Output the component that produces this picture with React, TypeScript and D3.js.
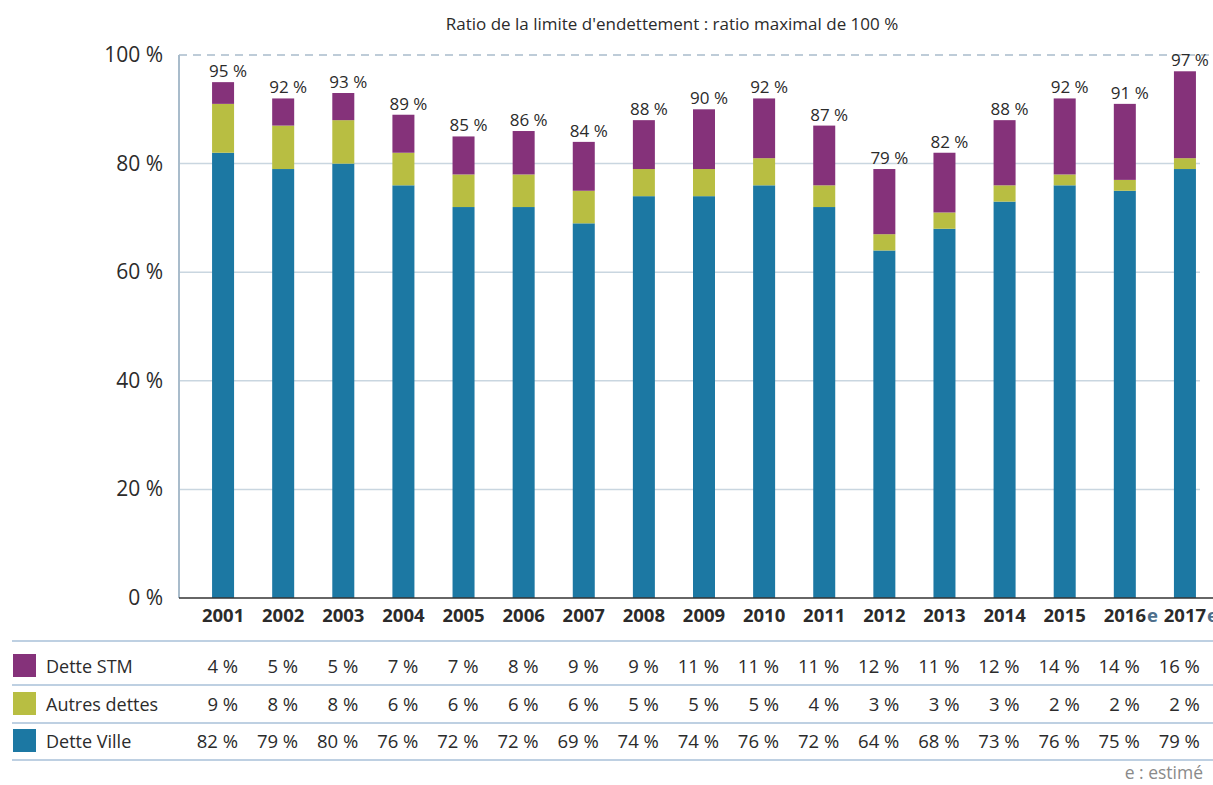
import React, { useEffect, useRef } from "react";
import * as d3 from "d3";

const years = ["2001", "2002", "2003", "2004", "2005", "2006", "2007", "2008", "2009", "2010", "2011", "2012", "2013", "2014", "2015", "2016", "2017"];
const estimated = ["2016", "2017"];
const detteVille = [82, 79, 80, 76, 72, 72, 69, 74, 74, 76, 72, 64, 68, 73, 76, 75, 79];
const autresDettes = [9, 8, 8, 6, 6, 6, 6, 5, 5, 5, 4, 3, 3, 3, 2, 2, 2];
const detteSTM = [4, 5, 5, 7, 7, 8, 9, 9, 11, 11, 11, 12, 11, 12, 14, 14, 16];
const totals = [95, 92, 93, 89, 85, 86, 84, 88, 90, 92, 87, 79, 82, 88, 92, 91, 97];
const yTicks = [0, 20, 40, 60, 80, 100];

const series = [
  { key: "stm", label: "Dette STM", values: detteSTM, color: "#85327a" },
  { key: "autres", label: "Autres dettes", values: autresDettes, color: "#b8be42" },
  { key: "ville", label: "Dette Ville", values: detteVille, color: "#1c78a3" },
];

const W = 1213;
const H = 785;
const FONT = "'Open Sans', 'Noto Sans', sans-serif";

const App = () => {
  const svgRef = useRef<SVGSVGElement>(null);

  useEffect(() => {
    const svg = d3.select(svgRef.current);
    svg.selectAll("*").remove();

    const x0 = 179;
    const yTop = 55;
    const yBottom = 598;

    // band scale: first bar centred ~223, step ~60
    const x = d3
      .scaleBand()
      .domain(years)
      .range([x0, 1229])
      .paddingInner(0.634)
      .paddingOuter(0.55);
    const y = d3.scaleLinear().domain([0, 100]).range([yBottom, yTop]);

    // title
    svg
      .append("text")
      .attr("x", 672)
      .attr("y", 30)
      .attr("text-anchor", "middle")
      .style("font-family", FONT)
      .style("font-size", "17px")
      .attr("fill", "#2b2b2b")
      .text("Ratio de la limite d'endettement : ratio maximal de 100 %");

    // grid
    svg
      .append("g")
      .selectAll("line")
      .data(yTicks.filter((t) => t > 0 && t < 100))
      .join("line")
      .attr("x1", x0)
      .attr("x2", 1200)
      .attr("y1", (d) => y(d))
      .attr("y2", (d) => y(d))
      .attr("stroke", "#c9d6e0")
      .attr("stroke-width", 1.5);

    svg
      .append("line")
      .attr("x1", x0)
      .attr("x2", W)
      .attr("y1", y(100))
      .attr("y2", y(100))
      .attr("stroke", "#a9bccb")
      .attr("stroke-width", 1.5)
      .attr("stroke-dasharray", "8,6");

    // y axis labels
    svg
      .append("g")
      .selectAll("text")
      .data(yTicks)
      .join("text")
      .attr("x", 163)
      .attr("y", (d) => y(d) + 7)
      .attr("text-anchor", "end")
      .style("font-family", FONT)
      .style("font-size", "21px")
      .attr("fill", "#2b2b2b")
      .text((d) => `${d} %`);

    // stacked bars
    const stackData = years.map((yr, i) => ({
      year: yr,
      ville: detteVille[i],
      autres: autresDettes[i],
      stm: detteSTM[i],
    }));
    const stack = d3.stack<any>().keys(["ville", "autres", "stm"]);
    const layers = stack(stackData);
    const colorOf: Record<string, string> = {};
    series.forEach((s) => (colorOf[s.key] = s.color));

    svg
      .append("g")
      .selectAll("g")
      .data(layers)
      .join("g")
      .attr("fill", (d) => colorOf[d.key])
      .selectAll("rect")
      .data((d) => d)
      .join("rect")
      .attr("x", (d: any) => x(d.data.year)!)
      .attr("width", x.bandwidth())
      .attr("y", (d) => y(d[1]))
      .attr("height", (d) => y(d[0]) - y(d[1]));

    // axes lines
    svg
      .append("line")
      .attr("x1", x0)
      .attr("x2", x0)
      .attr("y1", yTop)
      .attr("y2", yBottom)
      .attr("stroke", "#a9bccb")
      .attr("stroke-width", 2);
    svg
      .append("line")
      .attr("x1", x0)
      .attr("x2", W)
      .attr("y1", yBottom)
      .attr("y2", yBottom)
      .attr("stroke", "#333")
      .attr("stroke-width", 1.5);

    // total labels
    svg
      .append("g")
      .selectAll("text")
      .data(totals)
      .join("text")
      .attr("x", (d, i) => x(years[i])! + x.bandwidth() / 2 + 5)
      .attr("y", (d) => y(d) - 5)
      .attr("text-anchor", "middle")
      .style("font-family", FONT)
      .style("font-size", "17px")
      .attr("fill", "#2b2b2b")
      .text((d) => `${d} %`);

    // x labels
    const xl = svg.append("g");
    years.forEach((yr) => {
      const cx = x(yr)! + x.bandwidth() / 2;
      const t = xl
        .append("text")
        .attr("x", cx)
        .attr("y", 622)
        .attr("text-anchor", "middle")
        .style("font-family", FONT)
        .style("font-size", "18.5px")
        .style("font-weight", "bold")
        .attr("fill", "#2b2b2b")
        .text(yr);
      if (estimated.includes(yr)) {
        const w = (t.node() as SVGTextElement).getComputedTextLength();
        xl.append("text")
          .attr("x", cx + w / 2 + 1)
          .attr("y", 622)
          .style("font-family", FONT)
          .style("font-size", "18.5px")
          .style("font-weight", "bold")
          .attr("fill", "#4d6f8c")
          .text("e");
      }
    });

    // table
    const rowLines = [641, 685, 723, 760];
    svg
      .append("g")
      .selectAll("line")
      .data(rowLines)
      .join("line")
      .attr("x1", 12)
      .attr("x2", W)
      .attr("y1", (d) => d)
      .attr("y2", (d) => d)
      .attr("stroke", "#a9c0d8")
      .attr("stroke-width", 1.5);

    const rowY = [666, 704, 741];
    series.forEach((s, r) => {
      const g = svg.append("g");
      g.append("rect")
        .attr("x", 13)
        .attr("y", rowY[r] - 12)
        .attr("width", 23)
        .attr("height", 23)
        .attr("fill", s.color);
      g.append("text")
        .attr("x", 46)
        .attr("y", rowY[r] + 7)
        .style("font-family", FONT)
        .style("font-size", "18px")
        .attr("fill", "#2b2b2b")
        .text(s.label);
      g.selectAll("text.v")
        .data(s.values)
        .join("text")
        .attr("class", "v")
        .attr("x", (d, i) => x(years[i])! + x.bandwidth() / 2 + 15)
        .attr("y", rowY[r] + 7)
        .attr("text-anchor", "end")
        .style("font-family", FONT)
        .style("font-size", "18.5px")
        .attr("fill", "#2b2b2b")
        .text((d) => `${d} %`);
    });

    svg
      .append("text")
      .attr("x", 1203)
      .attr("y", 779)
      .attr("text-anchor", "end")
      .style("font-family", FONT)
      .style("font-size", "17.5px")
      .attr("fill", "#8a8a8a")
      .text("e : estimé");
  }, []);

  return (
    <>
      <style>{"body{margin:0}"}</style>
      <svg ref={svgRef} width={W} height={H} style={{ display: "block", background: "#fff" }} />
    </>
  );
};

export default App;
